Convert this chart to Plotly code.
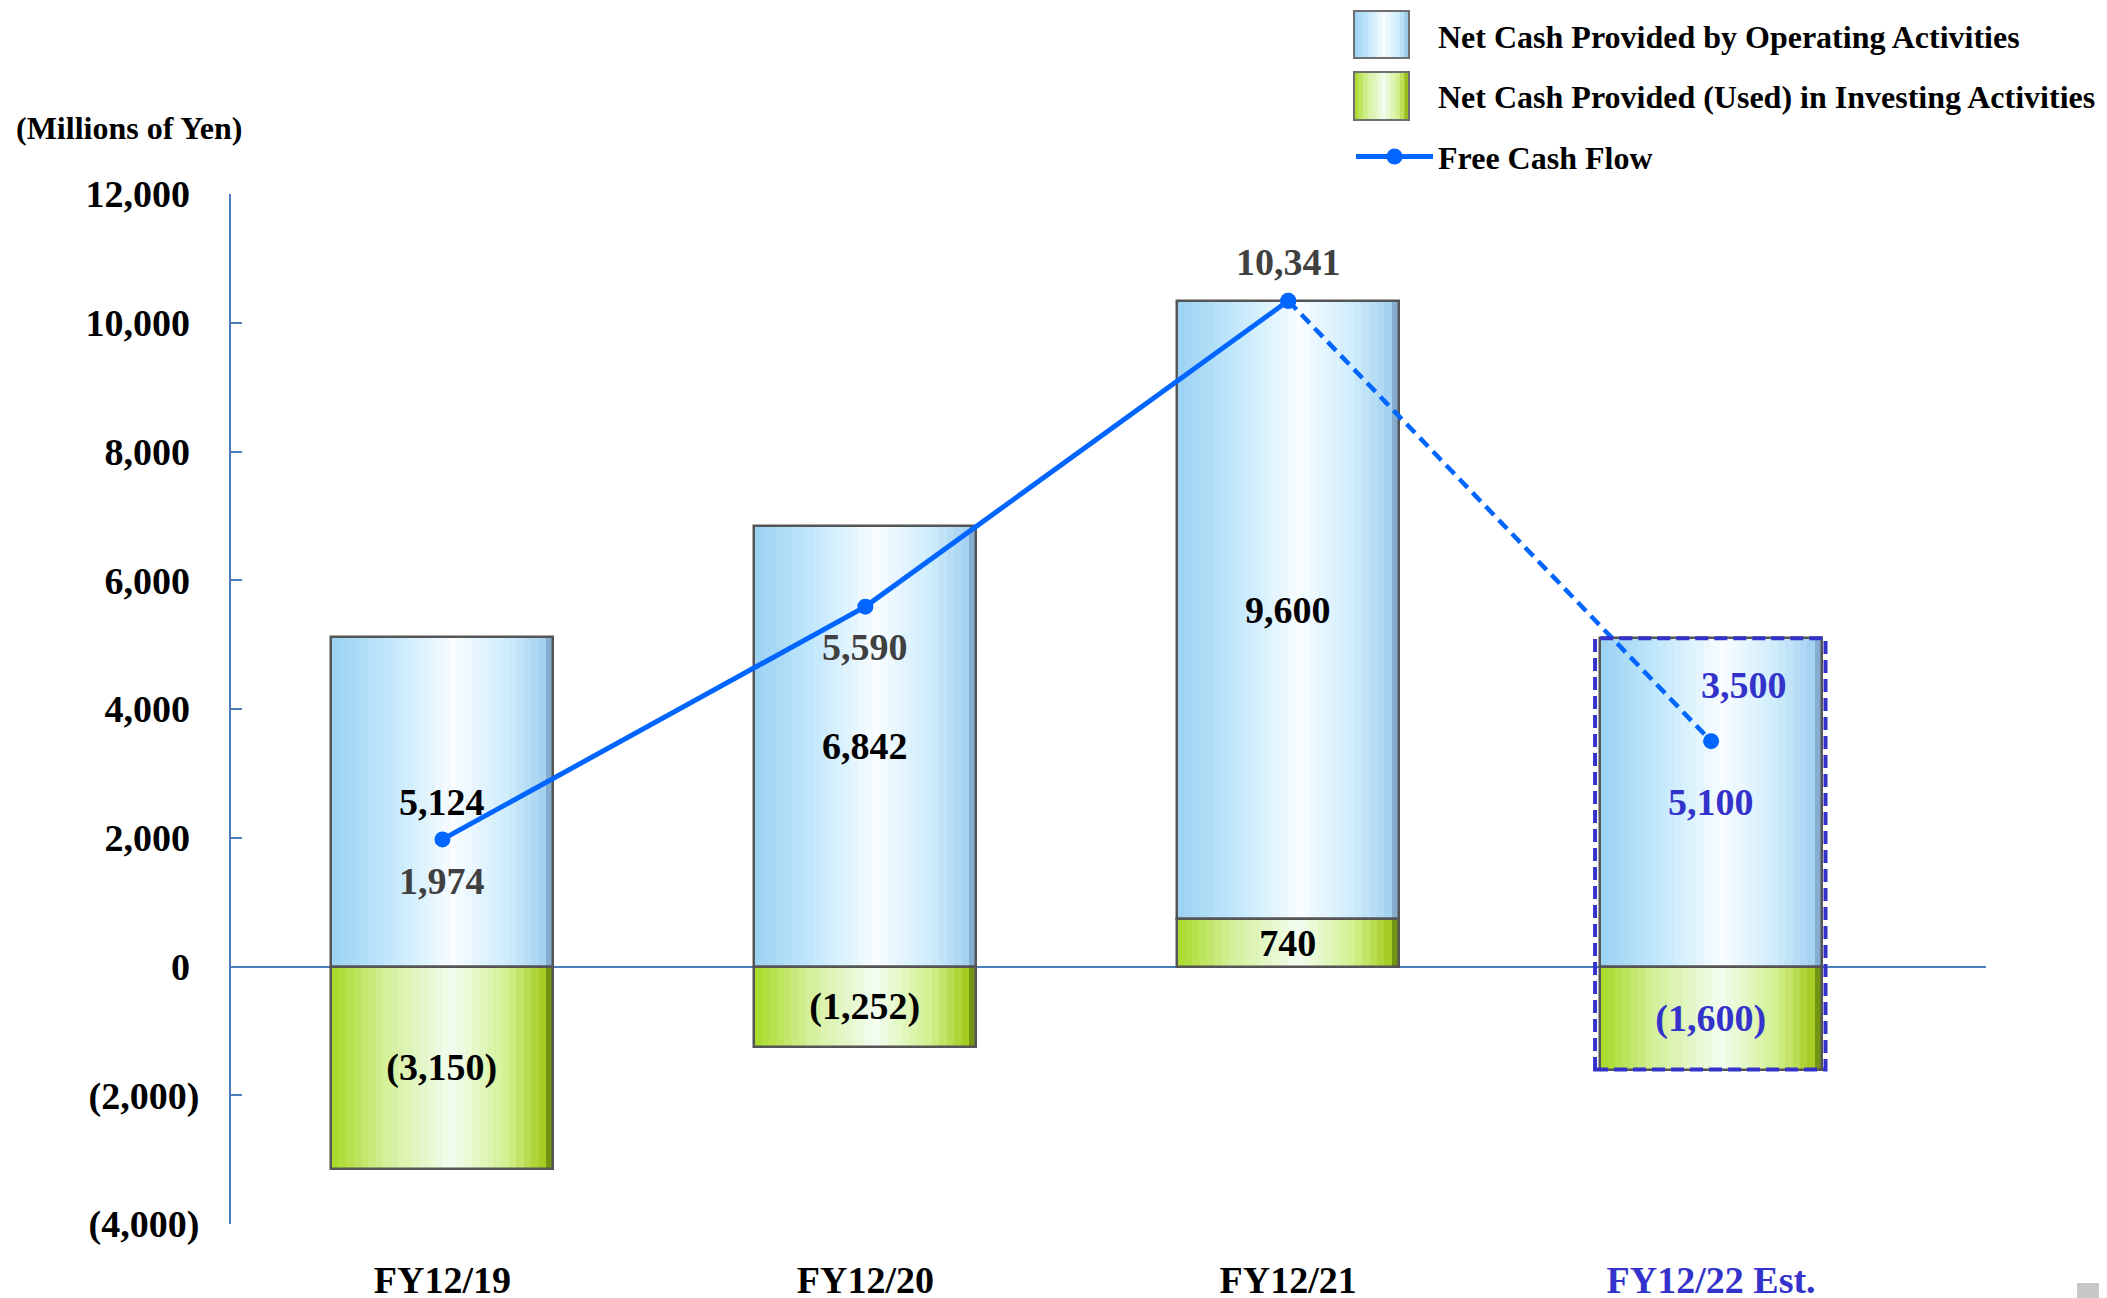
import plotly.graph_objects as go

# ---------------- data ----------------
categories = ["FY12/19", "FY12/20", "FY12/21", "FY12/22 Est."]
operating = [5124, 6842, 9600, 5100]
investing = [-3150, -1252, 740, -1600]
free_cash_flow = [1974, 5590, 10341, 3500]
y_tick_values = [-4000, -2000, 0, 2000, 4000, 6000, 8000, 10000, 12000]
estimate_flags = [False, False, False, True]

series_names = [
    "Net Cash Provided by Operating Activities",
    "Net Cash Provided (Used) in Investing Activities",
    "Free Cash Flow",
]

# ---------------- styles ----------------
FONT = "Liberation Serif"
EST_COLOR = "#3333CC"
AXIS_COLOR = "#4A7EBB"
FCF_COLOR = "#0066FF"
BORDER = "#555555"
BAR_W = 0.525
N_STRIPS = 30

blue_stops = [(0.0, (155, 210, 242)), (0.25, (192, 230, 251)), (0.55, (248, 253, 255)),
              (0.8, (205, 236, 252)), (0.95, (165, 210, 240)), (1.0, (115, 155, 190))]
green_stops = [(0.0, (168, 218, 38)), (0.25, (212, 240, 155)), (0.55, (242, 253, 240)),
               (0.8, (210, 240, 140)), (0.95, (165, 205, 35)), (1.0, (90, 120, 10))]

# page geometry (the page is offset by the browser's 8px body margin)
W, H = 2107, 1298
OFF = 8
PLOT_L, PLOT_R, PLOT_T, PLOT_B = 231, 1986, 194, 1224   # target page pixels
ML, MT = PLOT_L - OFF, PLOT_T - OFF
MR, MB = W - (PLOT_R - OFF), H - (PLOT_B - OFF)
PW, PH = W - ML - MR, H - MT - MB


def px(x):
    return (x - OFF - ML) / PW


def py(y):
    return (H - MB - (y - OFF)) / PH


def interp(stops, t):
    for (t0, c0), (t1, c1) in zip(stops[:-1], stops[1:]):
        if t0 <= t <= t1:
            f = (t - t0) / (t1 - t0) if t1 > t0 else 0
            c = [round(a + (b - a) * f) for a, b in zip(c0, c1)]
            return "rgb(%d,%d,%d)" % tuple(c)
    return "rgb(%d,%d,%d)" % stops[-1][1]


def fmt(v):
    return "({:,})".format(abs(v)) if v < 0 else "{:,}".format(v)


def ytick(v):
    return fmt(v) if v < 0 else fmt(v) + "\u00a0"


label_colors = [EST_COLOR if e else "black" for e in estimate_flags]
fcf_label_colors = [EST_COLOR if e else "#404040" for e in estimate_flags]

op_base = [max(v, 0) for v in investing]
inv_base = [0 for _ in investing]

fig = go.Figure()

series = [
    (operating, op_base, blue_stops, series_names[0], 1),
    (investing, inv_base, green_stops, series_names[1], 2),
]

for vals, base, stops, name, rank in series:
    # legend carrier (invisible fill; the swatch is drawn separately)
    fig.add_trace(go.Bar(
        x=categories, y=vals, base=base, width=BAR_W, offset=-BAR_W / 2,
        marker=dict(color="rgba(0,0,0,0)", line=dict(width=0)),
        name=name, legendrank=rank, legendgroup=name, hoverinfo="skip",
    ))
    # gradient strips
    for i in range(N_STRIPS):
        t = (i + 0.5) / N_STRIPS
        sw = BAR_W / N_STRIPS
        fig.add_trace(go.Bar(
            x=categories, y=vals, base=base,
            width=sw * (1.25 if i < N_STRIPS - 1 else 1.0),
            offset=-BAR_W / 2 + i * sw,
            marker=dict(color=interp(stops, t), line=dict(width=0)),
            showlegend=False, hoverinfo="skip",
        ))

for vals, base, stops, name, rank in series:
    # border + value labels on top
    fig.add_trace(go.Bar(
        x=categories, y=vals, base=base, width=BAR_W, offset=-BAR_W / 2,
        marker=dict(color="rgba(0,0,0,0)", line=dict(color=BORDER, width=2.5)),
        text=[fmt(v) for v in vals], textposition="inside",
        insidetextanchor="middle", textangle=0, constraintext="none",
        textfont=dict(family=FONT, size=38, color=label_colors, weight="bold"),
        showlegend=False, hoverinfo="skip",
    ))

# Free cash flow line: solid for actuals, dashed to the estimate
fig.add_trace(go.Scatter(
    x=categories[:3], y=free_cash_flow[:3], mode="lines+markers",
    line=dict(color=FCF_COLOR, width=5), marker=dict(size=16, color=FCF_COLOR),
    name=series_names[2], legendrank=3, legendgroup=series_names[2],
))
fig.add_trace(go.Scatter(
    x=categories[2:], y=free_cash_flow[2:], mode="lines+markers",
    line=dict(color=FCF_COLOR, width=4.5, dash="12px,7px"),
    marker=dict(size=16, color=FCF_COLOR), showlegend=False,
))

fcf_label_shift = [(0, -42), (0, -40), (0, 39), (33, 56)]
for c, v, col, (dx, dy) in zip(categories, free_cash_flow, fcf_label_colors, fcf_label_shift):
    fig.add_annotation(x=c, y=v, text=fmt(v), showarrow=False, xshift=dx, yshift=dy,
                       font=dict(family=FONT, size=38, color=col, weight="bold"))

# dashed frame around the estimate bar
est_idx = estimate_flags.index(True)
fig.add_shape(type="rect", xref="x", yref="y",
              x0=est_idx - BAR_W / 2 - 0.012, x1=est_idx + BAR_W / 2 + 0.008,
              y0=investing[est_idx], y1=operating[est_idx] + op_base[est_idx],
              line=dict(color=EST_COLOR, width=4, dash="13px,6px"), layer="above")

# unit label
fig.add_annotation(xref="paper", yref="paper", x=px(129), y=py(128),
                   text="(Millions of Yen)", showarrow=False, xanchor="center", yanchor="middle",
                   font=dict(family=FONT, size=32, color="black", weight="bold"))

# legend swatches (large gradient boxes like the original)
swatches = [((1354, 1409, 11, 58), blue_stops), ((1354, 1409, 72, 120), green_stops)]
for (x0, x1, y0, y1), stops in swatches:
    n = 12
    for i in range(n):
        t = (i + 0.5) / n
        fig.add_shape(type="rect", xref="paper", yref="paper",
                      x0=px(x0 + (x1 - x0) * i / n), x1=px(x0 + (x1 - x0) * (i + 1) / n + 0.6),
                      y0=py(y1), y1=py(y0), fillcolor=interp(stops, t), line=dict(width=0),
                      layer="above")
    fig.add_shape(type="rect", xref="paper", yref="paper",
                  x0=px(x0), x1=px(x1), y0=py(y1), y1=py(y0),
                  fillcolor="rgba(0,0,0,0)", line=dict(color="#707070", width=2), layer="above")

# small grey box in the bottom-right corner
fig.add_shape(type="rect", xref="paper", yref="paper",
              x0=px(2077), x1=px(2110), y0=py(1300), y1=py(1283),
              fillcolor="#C8C8C8", line=dict(width=0), layer="above")

x_ticktext = ['<span style="color:%s">%s</span>' % (EST_COLOR if e else "black", c)
              for c, e in zip(categories, estimate_flags)]

fig.update_layout(
    width=W, height=H,
    margin=dict(l=ML, r=MR, t=MT, b=MB, pad=0, autoexpand=False),
    paper_bgcolor="white", plot_bgcolor="white",
    barmode="overlay", bargap=0,
    showlegend=True,
    legend=dict(
        x=px(1351), y=py(8), xanchor="left", yanchor="top",
        font=dict(family=FONT, size=32, color="black", weight="bold"),
        bgcolor="rgba(0,0,0,0)", itemwidth=77, traceorder="grouped", tracegroupgap=16,
    ),
    xaxis=dict(
        type="category", range=[-0.5, 3.65], showline=False, showgrid=False,
        zeroline=False, ticks="", tickvals=categories, ticktext=x_ticktext,
        tickfont=dict(family=FONT, size=38, color="black", weight="bold"),
        ticklabelstandoff=30, automargin=False,
    ),
    yaxis=dict(
        range=[-4000, 12000], tickvals=y_tick_values,
        ticktext=[ytick(v) for v in y_tick_values],
        showline=True, linecolor=AXIS_COLOR, linewidth=2,
        ticks="inside", ticklen=11, tickwidth=2, tickcolor=AXIS_COLOR,
        showgrid=False, zeroline=True, zerolinecolor=AXIS_COLOR, zerolinewidth=2,
        tickfont=dict(family=FONT, size=38, color="black", weight="bold"),
        ticklabelstandoff=22, automargin=False,
    ),
)

fig.write_html("out.html")
